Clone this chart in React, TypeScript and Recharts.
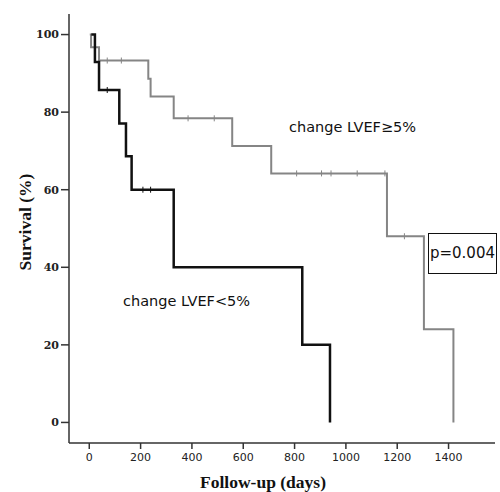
import { ComposedChart, Line, Scatter, XAxis, YAxis } from 'recharts'

// Kaplan-Meier curves (days, survival %)
const lowTimes = [8, 22, 38, 117, 143, 165, 329, 830, 938]
const lowSurv = [100, 92.9, 85.7, 77.1, 68.6, 60, 40, 20, 0]
const lowCensorTimes = [70, 209, 239]
const lowCensorSurv = [85.7, 60, 60]

const highTimes = [2, 7, 38, 230, 239, 329, 557, 709, 1160, 1304, 1419]
const highSurv = [100, 96.7, 93.3, 88.6, 84, 78.4, 71.3, 64.2, 48, 24, 0]
const highCensorTimes = [70, 125, 385, 487, 808, 905, 942, 1044, 1152, 1228]
const highCensorSurv = [93.3, 93.3, 78.4, 78.4, 64.2, 64.2, 64.2, 64.2, 64.2, 48]

const xTicks = [0, 200, 400, 600, 800, 1000, 1200, 1400]
const yTicks = [0, 20, 40, 60, 80, 100]

const BLACK = '#111111'
const GREY = '#858585'

const toPoints = (xs: number[], ys: number[]) => xs.map((x, i) => ({ x, y: ys[i] }))

const lowData = toPoints(lowTimes, lowSurv)
const highData = toPoints(highTimes, highSurv)
const lowCensor = toPoints(lowCensorTimes, lowCensorSurv)
const highCensor = toPoints(highCensorTimes, highCensorSurv)

function censorMark(color: string) {
  return (props: any) => (
    <line x1={props.cx} x2={props.cx} y1={props.cy - 3} y2={props.cy + 3} stroke={color} strokeWidth={1} />
  )
}

const sans = '"DejaVu Sans", Verdana, sans-serif'
const serif = '"Liberation Serif", "DejaVu Serif", serif'

export default function App() {
  return (
    <div style={{ position: 'absolute', left: 0, top: 0, width: 500, height: 492, background: '#fff' }}>
      <ComposedChart width={500} height={492} margin={{ top: 14, right: 5, left: 0, bottom: 0 }}>
        <XAxis
          dataKey="x"
          type="number"
          domain={[-79, 1581]}
          ticks={xTicks}
          allowDataOverflow
          height={49}
          tickSize={6}
          tickMargin={4}
          stroke="#333"
          strokeWidth={1.5}
          tick={{ fill: '#222', fontSize: 11, fontFamily: sans }}
        />
        <YAxis
          type="number"
          domain={[-5.3, 105.3]}
          ticks={yTicks}
          allowDataOverflow
          width={69}
          tickSize={8}
          tickMargin={2}
          stroke="#333"
          strokeWidth={1.5}
          tick={{ fill: '#222', fontSize: 11, fontFamily: '"DejaVu Serif", serif', fontWeight: 'bold' }}
        />
        <Line
          data={highData}
          dataKey="y"
          type="stepAfter"
          stroke={GREY}
          strokeWidth={2}
          dot={false}
          isAnimationActive={false}
        />
        <Line
          data={lowData}
          dataKey="y"
          type="stepAfter"
          stroke={BLACK}
          strokeWidth={2.5}
          dot={false}
          isAnimationActive={false}
        />
        <Scatter data={highCensor} dataKey="y" shape={censorMark(GREY)} isAnimationActive={false} />
        <Scatter data={lowCensor} dataKey="y" shape={censorMark(BLACK)} isAnimationActive={false} />
      </ComposedChart>

      <div style={{ position: 'absolute', left: 289, top: 117, fontFamily: sans, fontSize: 14.5, lineHeight: '20px', color: '#111', whiteSpace: 'nowrap' }}>
        change LVEF≥5%
      </div>
      <div style={{ position: 'absolute', left: 123, top: 291, fontFamily: sans, fontSize: 14.5, lineHeight: '20px', color: '#111', whiteSpace: 'nowrap' }}>
        change LVEF&lt;5%
      </div>
      <div
        style={{
          position: 'absolute',
          left: 428,
          top: 233,
          width: 69,
          height: 41,
          boxSizing: 'border-box',
          border: '1.5px solid #111',
          fontFamily: sans,
          fontSize: 15,
          lineHeight: '38px',
          textAlign: 'center',
          color: '#111',
          whiteSpace: 'nowrap',
        }}
      >
        p=0.004
      </div>
      <div
        style={{
          position: 'absolute',
          left: 25,
          top: 222,
          transform: 'translate(-50%, -50%) rotate(-90deg)',
          fontFamily: serif,
          fontWeight: 'bold',
          fontSize: 17.5,
          color: '#111',
          whiteSpace: 'nowrap',
        }}
      >
        Survival (%)
      </div>
      <div
        style={{
          position: 'absolute',
          left: 263,
          top: 482,
          transform: 'translate(-50%, -50%)',
          fontFamily: serif,
          fontWeight: 'bold',
          fontSize: 17.5,
          color: '#111',
          whiteSpace: 'nowrap',
        }}
      >
        Follow-up (days)
      </div>
    </div>
  )
}
